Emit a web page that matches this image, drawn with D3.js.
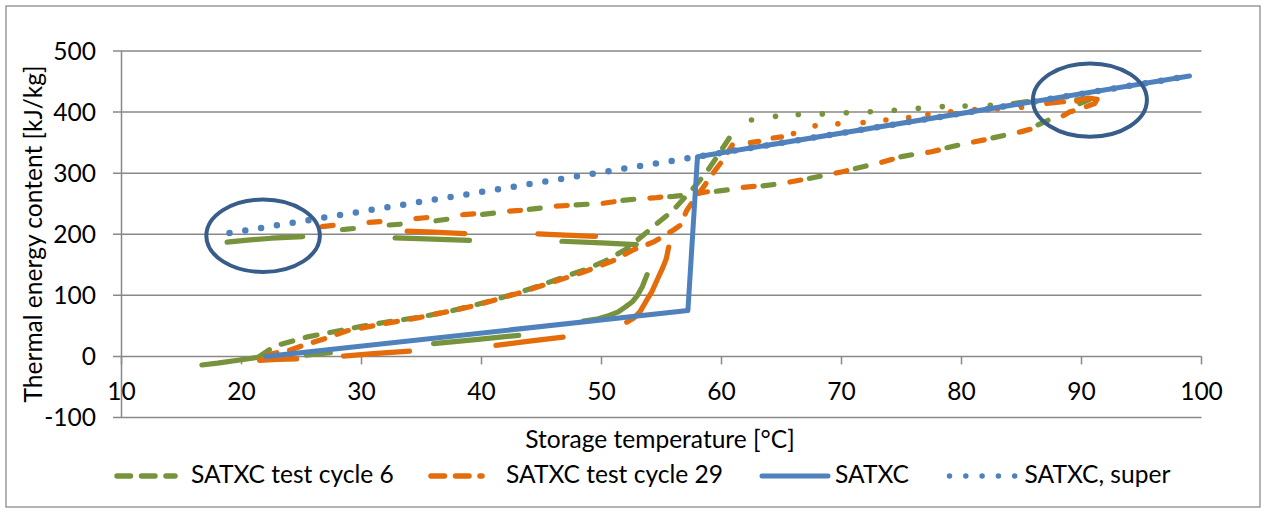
<!DOCTYPE html>
<html><head><meta charset="utf-8">
<script src="https://cdn.jsdelivr.net/npm/d3@7"></script>
<style>body{margin:0;background:#fff}svg{display:block}</style>
</head><body>
<svg id="c" width="1265" height="513"></svg>
<script>
// ---------- data ----------
const xTicks = [10,20,30,40,50,60,70,80,90,100];
const yTicks = [-100,0,100,200,300,400,500];
const seriesNames = ["SATXC test cycle 6","SATXC test cycle 29","SATXC","SATXC, super"];

// SATXC (reference curve)
const satxcT = [22, 57.2, 58, 99];
const satxcE = [0, 75, 327, 459];
// SATXC, supercooled
const superT = [19, 58, 99];
const superE = [202, 327, 459];

// test cycle 6 : dense (solid-looking) pieces
const c6Solid = [
  [[16.7,-14],[18,-11],[20,-5.5],[21.5,-1]],
  [[18.8,187],[20.5,190.5],[22.5,193.5],[25.1,196]],
  [[32.8,194],[36,192],[39,190]],
  [[46.7,188.5],[50,186],[52.9,183]],
  [[53.8,134],[53.4,114],[53,100],[52.6,90],[52,81],[51.4,73],[50.5,66],[49.6,61],[48.5,58]],
  [[36,21],[39.5,27.5],[43.1,34.5]],
  [[25.4,2],[27.4,6]],
  [[84.3,414],[85.5,417]],
  [[89.6,420],[90.4,421.5]]
];
// test cycle 6 : heating branch (sparse samples)
const c6Heat = [[21.5,0],[22.4,12],[23.2,19.5],[25.4,31.5],[27.6,40],[29.9,49],[32,56],[34.9,64.5],[37.6,75],[40.4,89],[43.2,105],[46,124],[48.6,142],[50.3,156],[52,175],[53.4,197],[54.6,217],[55.9,238],[57.5,272],[58.7,300],[59.9,335],[61,368]];
// test cycle 6 : cooling branch (sparse samples)
const c6Cool = [[90.7,421],[89.5,411],[88.5,402],[87.5,389],[86,376],[84,364],[82,355],[80,347],[77.5,336],[75,327],[72.5,314],[70,302],[67.5,292],[65,283],[62.5,277],[60,271.5],[58,266],[56,262],[54.7,261],[52,256],[49.9,250.5],[47.9,248],[45.4,244],[43.2,239],[40.3,233],[38.4,228],[35.1,219],[32.2,215],[28.6,208],[26.5,205]];
// test cycle 6 : isolated points near the top
const c6Dots = [[62.5,387],[64.5,393],[66.4,396],[68.4,397],[70.4,399],[72.4,400.5],[74.4,403],[76.4,406],[78.4,409],[80.3,410],[82.4,411]];

// test cycle 29
const c29Solid = [
  [[21.5,-6.5],[23,-5],[24.6,-4]],
  [[33.8,205],[36,203.5],[38.6,201]],
  [[44.7,200.5],[47,198.5],[49.5,196.5]],
  [[55.6,179],[55.4,160],[55.1,145],[54.7,128],[54.2,106],[53.7,90],[53.2,73],[52.7,63],[52.1,56]],
  [[41.2,18],[44,25],[46.8,31.6]],
  [[28.5,0.5],[31,4.5],[34,8.7]],
  [[62.4,350],[63.1,352]],
  [[64.3,357.5],[65,359.5]],
  [[87.1,414],[88.5,417]],
  [[89.6,418],[90.6,423],[91.3,421],[91.1,414],[90.4,409]]
];
const c29Heat = [[22,0],[22.4,4],[24,10],[25.3,19],[27.1,30],[28.8,42],[32,54],[34.9,64],[37.6,75],[39.6,84],[43,103],[46,122],[48.5,138],[51,157],[52.6,174],[54.3,187],[55.1,196],[56,207],[56.6,215],[57.1,239],[57.7,256],[58.6,280],[59,292],[59.6,308],[60.1,321],[60.9,346]];
const c29Cool = [[90.4,409],[89,400],[87.6,384],[86.5,376],[85,368],[82,355],[80,347],[77.5,335],[75,327],[72.5,313],[70,302],[67.5,292],[65,283],[62.5,278],[60,273],[58,267],[56,263],[54.6,260],[52,256],[49.9,250],[47.9,248],[45.4,245],[43.2,239],[40.3,235],[38.5,232],[35.3,227],[33.6,224],[30.4,219],[27.8,215],[26.5,212],[24.5,207]];
const c29Dots = [[66,365],[67.8,377.5],[69.7,381],[71.8,383],[73.7,387],[75.6,391],[77.2,396],[79.1,400.5],[81.1,404],[83,405.5],[85,408]];

// highlighted regions (centre T, centre E, half-width in °C, half-height in kJ/kg)
const markT  = [21.8, 90.7];
const markE  = [197.5, 419.7];
const markRT = [4.73, 4.75];
const markRE = [59.3, 60];

// ---------- drawing ----------
const FONT = "Lato, 'Open Sans', sans-serif";
const GREEN = "#77933C", ORANGE = "#E46C0A", BLUE = "#4F81BD", DARK = "#385D8A", GRID = "#888888";

const svg = d3.select("#c");
const probe = svg.append("text").attr("font-family", FONT).attr("font-size", 100).text(seriesNames[0]);
const FS = 1.04 * 100 * 195 / probe.node().getComputedTextLength();
probe.remove();

svg.append("rect").attr("x",6).attr("y",6).attr("width",1254).attr("height",501)
  .attr("fill","#fff").attr("stroke","#8c8c8c").attr("stroke-width",1.3);

const x = d3.scaleLinear().domain([10,100]).range([121.5,1201.5]);
const y = d3.scaleLinear().domain([-100,500]).range([417.5,51]);

// gridlines
svg.append("g").selectAll("line").data(yTicks).join("line")
  .attr("x1",113).attr("x2",x(100)).attr("y1",d=>y(d)).attr("y2",d=>y(d))
  .attr("stroke",GRID).attr("stroke-width",1.5);
// y axis
svg.append("line").attr("x1",x(10)).attr("x2",x(10)).attr("y1",y(500)).attr("y2",y(-100))
  .attr("stroke",GRID).attr("stroke-width",1.5);
// x ticks at zero line
svg.append("g").selectAll("line").data(xTicks).join("line")
  .attr("x1",d=>x(d)).attr("x2",d=>x(d)).attr("y1",y(0)).attr("y2",y(0)+8)
  .attr("stroke",GRID).attr("stroke-width",1.5);

svg.append("g").selectAll("text").data(yTicks).join("text")
  .attr("x",96).attr("y",d=>y(d)).attr("dy","0.36em").attr("text-anchor","end")
  .attr("font-family",FONT).attr("font-size",FS).attr("fill","#000").text(d=>d);
svg.append("g").selectAll("text").data(xTicks).join("text")
  .attr("x",d=>x(d)).attr("y",400).attr("text-anchor","middle")
  .attr("font-family",FONT).attr("font-size",FS).attr("fill","#000").text(d=>d);

svg.append("text").attr("x",660).attr("y",448).attr("text-anchor","middle")
  .attr("font-family",FONT).attr("font-size",FS).text("Storage temperature [°C]");
svg.append("text").attr("transform","translate(42,234) rotate(-90)").attr("text-anchor","middle")
  .attr("font-family",FONT).attr("font-size",FS).text("Thermal energy content [kJ/kg]");

const line = d3.line().x(d=>x(d[0])).y(d=>y(d[1]));
const plot = svg.append("g");

function drawSeries(solid, heat, cool, dots, color, coolOffset){
  const g = plot.append("g");
  g.append("path").attr("d",line(heat)).attr("fill","none").attr("stroke",color).attr("stroke-width",5.2)
    .attr("stroke-dasharray","12 13").attr("stroke-linecap","round").attr("stroke-linejoin","round");
  g.append("path").attr("d",line(cool)).attr("fill","none").attr("stroke",color).attr("stroke-width",5.2)
    .attr("stroke-dasharray","11 36").attr("stroke-dashoffset",coolOffset)
    .attr("stroke-linecap","round").attr("stroke-linejoin","round");
  g.selectAll("path.s").data(solid).join("path").attr("class","s")
    .attr("d",line).attr("fill","none").attr("stroke",color).attr("stroke-width",5.2)
    .attr("stroke-linecap","round").attr("stroke-linejoin","round");
  g.selectAll("circle").data(dots).join("circle")
    .attr("cx",d=>x(d[0])).attr("cy",d=>y(d[1])).attr("r",2.8).attr("fill",color);
}
drawSeries(c6Solid, c6Heat, c6Cool, c6Dots, GREEN, 0);
drawSeries(c29Solid, c29Heat, c29Cool, c29Dots, ORANGE, -14);

const satxc = d3.zip(satxcT, satxcE);
plot.append("path").attr("d",line(satxc)).attr("fill","none").attr("stroke",BLUE)
  .attr("stroke-width",5).attr("stroke-linejoin","round").attr("stroke-linecap","round");
const sup = d3.zip(superT, superE);
plot.append("path").attr("d",line(sup)).attr("fill","none").attr("stroke",BLUE)
  .attr("stroke-width",6.5).attr("stroke-dasharray","0 16").attr("stroke-linecap","round");

// highlight ellipses
svg.append("g").selectAll("ellipse").data(markT).join("ellipse")
  .attr("cx",(d,i)=>x(d)).attr("cy",(d,i)=>y(markE[i]))
  .attr("rx",(d,i)=>x(10+markRT[i])-x(10)).attr("ry",(d,i)=>y(0)-y(markRE[i]))
  .attr("fill","none").attr("stroke",DARK).attr("stroke-width",4);

// legend
const legY = 476;
const leg = [
  {x0:117, x1:175, color:GREEN, type:"dash", tx:191},
  {x0:431, x1:482, color:ORANGE, type:"dash", tx:506},
  {x0:762, x1:828, color:BLUE, type:"solid", tx:835},
  {x0:949.5, x1:1015, color:BLUE, type:"dot", tx:1024.5}
];
const lg = svg.append("g");
leg.forEach((L,i)=>{
  const p = lg.append("line").attr("x1",L.x0).attr("x2",L.x1).attr("y1",legY).attr("y2",legY)
    .attr("stroke",L.color).attr("stroke-linecap","round");
  if(L.type==="dash") p.attr("stroke-width",5.5).attr("stroke-dasharray","13.5 11");
  else if(L.type==="solid") p.attr("stroke-width",5);
  else p.attr("stroke-width",5.5).attr("stroke-dasharray","0 16.3");
  lg.append("text").attr("x",L.tx).attr("y",483).attr("font-family",FONT).attr("font-size",FS)
    .text(seriesNames[i]);
});
</script>
</body></html>
